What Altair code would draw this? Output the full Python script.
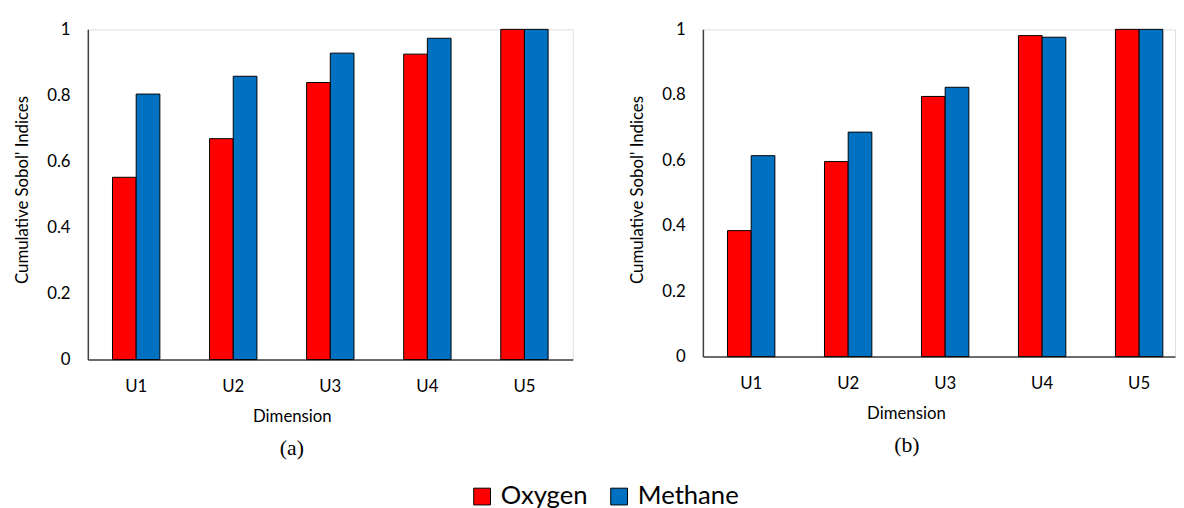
import altair as alt
import pandas as pd

dims = ["U1", "U2", "U3", "U4", "U5"]
series = ["Oxygen", "Methane"]
colors = ["#FF0000", "#0070C0"]

a_oxygen = [0.552, 0.669, 0.839, 0.925, 1.0]
a_methane = [0.804, 0.858, 0.928, 0.973, 1.0]
b_oxygen = [0.385, 0.596, 0.795, 0.981, 1.0]
b_methane = [0.614, 0.686, 0.823, 0.976, 1.0]

y_ticks = [0, 0.2, 0.4, 0.6, 0.8, 1]


def make_df(ox, me):
    rows = []
    for d, o, m in zip(dims, ox, me):
        rows.append({"dim": d, "series": "Oxygen", "value": o})
        rows.append({"dim": d, "series": "Methane", "value": m})
    return pd.DataFrame(rows)


FONT = "Lato"
FS = 17

color = alt.Color(
    "series:N",
    sort=series,
    scale=alt.Scale(domain=series, range=colors),
    legend=alt.Legend(
        orient="none",
        legendX=387,
        legendY=461,
        direction="horizontal",
        columns=2,
        title=None,
        symbolType="square",
        symbolSize=289,
        symbolStrokeColor="black",
        symbolStrokeWidth=1,
        symbolOpacity=1,
        labelFont=FONT,
        labelFontSize=26,
        labelColor="black",
        labelOffset=6,
        columnPadding=18,
        padding=0,
    ),
)


def panel(data, width, height, xscale, caption, dx, title_x):
    return (
        alt.Chart(data)
        .mark_bar(stroke="black", strokeWidth=1)
        .encode(
            x=alt.X(
                "dim:N",
                sort=dims,
                scale=xscale,
                axis=alt.Axis(
                    title="Dimension",
                    labelAngle=0,
                    ticks=False,
                    tickSize=0,
                    labelPadding=19,
                    labelFont=FONT,
                    labelFontSize=FS,
                    labelColor="black",
                    titleFont=FONT,
                    titleFontSize=FS,
                    titleFontWeight="normal",
                    titleColor="black",
                    titleX=title_x,
                    titleY=50,
                    domainColor="#404040",
                    domainWidth=1.5,
                ),
            ),
            xOffset=alt.XOffset(
                "series:N", sort=series,
                scale=alt.Scale(domain=series, paddingInner=0, paddingOuter=0),
            ),
            y=alt.Y(
                "value:Q",
                scale=alt.Scale(domain=[0, 1], nice=False),
                axis=alt.Axis(
                    values=y_ticks,
                    format=".1~f",
                    grid=False,
                    ticks=False,
                    tickSize=0,
                    labelPadding=18,
                    labelFont=FONT,
                    labelFontSize=FS,
                    labelColor="black",
                    title="Cumulative Sobol' Indices",
                    titleFont=FONT,
                    titleFontSize=FS,
                    titleFontWeight="normal",
                    titleColor="black",
                    titleX=-61,
                    titleY=162.5,
                    titleBaseline="alphabetic",
                    domainColor="#404040",
                    domainWidth=1.5,
                ),
            ),
            color=color,
        )
        .properties(
            width=width,
            height=height,
            title=alt.TitleParams(
                caption,
                orient="bottom",
                anchor="middle",
                frame="group",
                font="Liberation Serif",
                fontSize=22,
                fontWeight="normal",
                color="black",
                dx=dx,
                offset=14,
            ),
        )
    )


left = panel(
    make_df(a_oxygen, a_methane), 492, 335,
    alt.Scale(paddingInner=0.512, paddingOuter=0.254),
    "(a)", -39, 207,
)
right = panel(
    make_df(b_oxygen, b_methane), 479, 332,
    alt.Scale(paddingInner=0.512, paddingOuter=0.19, align=0.668),
    "(b)", -32.5, 206,
)

chart = (
    alt.hconcat(left, right, spacing=55)
    .resolve_scale(color="shared")
    .properties(padding={"left": 5, "top": 8, "right": 0, "bottom": 0})
    .configure_view(stroke=None)
    .configure(font=FONT)
)

chart.save("out.html", embed_options={"renderer": "svg", "actions": False})
